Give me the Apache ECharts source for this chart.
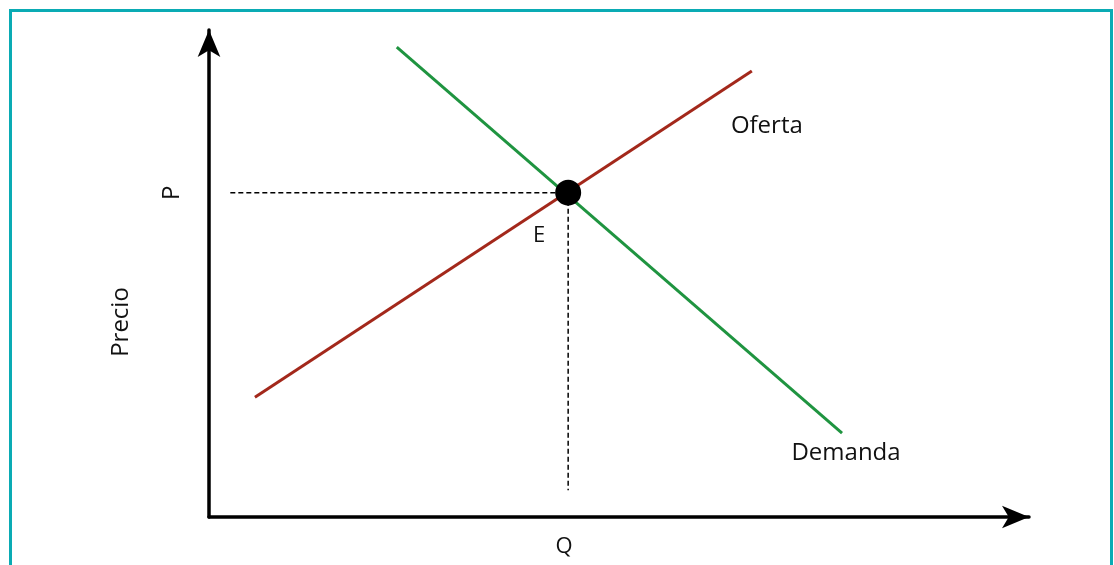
<!DOCTYPE html>
<html>
<head>
<meta charset="utf-8">
<script src="https://cdn.jsdelivr.net/npm/echarts@6/dist/echarts.min.js"></script>
<style>
html,body{margin:0;padding:0;background:#fff;}
#chart{width:1114px;height:565px;}
</style>
</head>
<body>
<div id="chart"></div>
<script>
// Quantity / price scale 0..100 (arbitrary units)
const supplyQ = [5.6, 66.2];
const supplyP = [24.6, 91.6];
const demandQ = [22.9, 77.2];
const demandP = [96.5, 17.2];
const eqQ = 43.8;
const eqP = 66.6;
const guideStartQ = 2.6;
const guideEndP = 5.5;
const labelSupply = 'Oferta';
const labelDemand = 'Demanda';
const labelEq = 'E';
const labelP = 'P';
const labelQ = 'Q';
const axisNameY = 'Precio';

const FONT = '"Open Sans", "Noto Sans", sans-serif';
const TXT = '#111';

const chart = echarts.init(document.getElementById('chart'), null, {renderer: 'canvas'});

function pairs(xs, ys) { return xs.map((x, i) => [x, ys[i]]); }

const supplyData = pairs(supplyQ, supplyP).map((v, i, a) => i === a.length - 1 ?
  {value: v, label: {show: true, formatter: labelSupply, position: 'inside', offset: [15, 55],
    color: TXT, fontSize: 24, fontFamily: FONT}} : {value: v});
const demandData = pairs(demandQ, demandP).map((v, i, a) => i === a.length - 1 ?
  {value: v, label: {show: true, formatter: labelDemand, position: 'inside', offset: [4, 20],
    color: TXT, fontSize: 24, fontFamily: FONT}} : {value: v});

const option = {
  animation: false,
  backgroundColor: '#fff',
  grid: {left: 209, right: 85, top: 30, bottom: 48, containLabel: false},
  xAxis: {
    type: 'value', min: 0, max: 100,
    axisLine: {show: true, lineStyle: {color: '#000', width: 3.5}, symbol: ['none', 'arrow'], symbolSize: [17, 27]},
    axisTick: {show: false},
    splitLine: {show: false},
    axisLabel: {show: true, customValues: [eqQ], formatter: () => labelQ, margin: 19,
      color: TXT, fontSize: 22, fontFamily: FONT, padding: [0, 8, 0, 0]}
  },
  yAxis: {
    type: 'value', min: 0, max: 100,
    name: axisNameY, nameLocation: 'middle', nameGap: 76,
    nameTextStyle: {color: TXT, fontSize: 24, fontFamily: FONT, padding: [0, 97, 0, 0]},
    axisLine: {show: true, lineStyle: {color: '#000', width: 3.5}, symbol: ['none', 'arrow'], symbolSize: [17, 27]},
    axisTick: {show: false},
    splitLine: {show: false},
    axisLabel: {show: true, customValues: [eqP], formatter: () => labelP, margin: 25, rotate: 90,
      color: TXT, fontSize: 24, fontFamily: FONT}
  },
  graphic: [{
    type: 'rect', silent: true,
    shape: {x: 10.5, y: 10.5, width: 1101, height: 620},
    style: {fill: 'none', stroke: '#0aabb4', lineWidth: 3}
  }],
  series: [
    {
      type: 'line', name: 'guideH', symbol: 'none', silent: true,
      data: [[guideStartQ, eqP], [eqQ, eqP]],
      lineStyle: {color: '#000', width: 1.5, type: [5, 3]}
    },
    {
      type: 'line', name: 'guideV', symbol: 'none', silent: true,
      data: [[eqQ, eqP], [eqQ, guideEndP]],
      lineStyle: {color: '#000', width: 1.5, type: [5, 3]}
    },
    {
      type: 'line', name: labelSupply, symbol: 'circle', symbolSize: 0, showSymbol: true,
      itemStyle: {color: '#a3281b'},
      lineStyle: {color: '#a3281b', width: 3},
      data: supplyData
    },
    {
      type: 'line', name: labelDemand, symbol: 'circle', symbolSize: 0, showSymbol: true,
      itemStyle: {color: '#1f9440'},
      lineStyle: {color: '#1f9440', width: 3},
      data: demandData
    },
    {
      type: 'scatter', name: 'eq', symbolSize: 26, z: 10,
      itemStyle: {color: '#000', opacity: 1},
      label: {show: true, formatter: labelEq, position: 'inside', offset: [-29, 43],
        color: TXT, fontSize: 22, fontFamily: FONT},
      data: [[eqQ, eqP]]
    }
  ]
};
chart.setOption(option);
</script>
</body>
</html>
